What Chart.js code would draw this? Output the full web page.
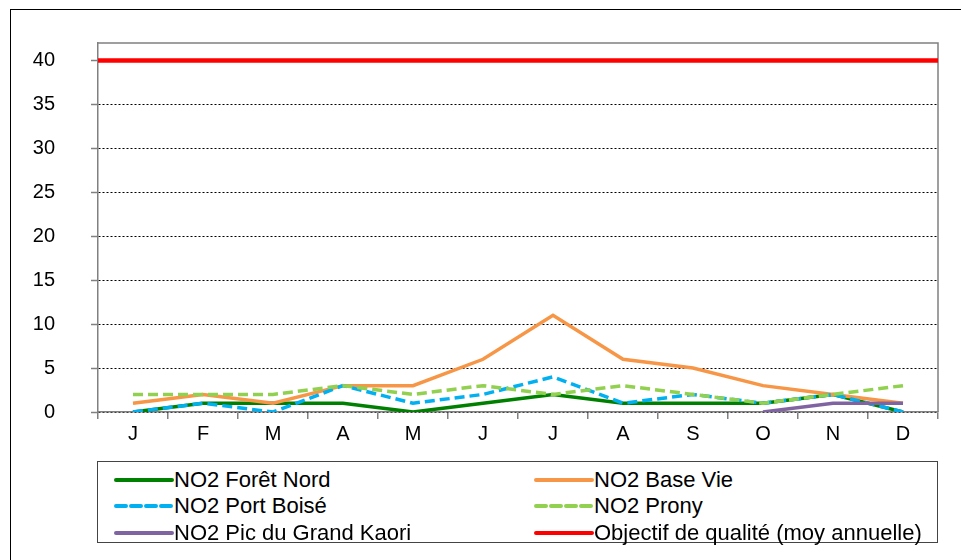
<!DOCTYPE html>
<html>
<head>
<meta charset="utf-8">
<script src="https://cdn.jsdelivr.net/npm/chart.js@4"></script>
<style>
  body { margin: 0; background: #fff; font-family: "Liberation Sans", Arial, sans-serif; }
  #wrap { position: relative; width: 961px; height: 560px; overflow: hidden; }
  #frame { position: absolute; left: 10px; top: 9px; width: 980px; height: 600px; border: 1.5px solid #000; }
  #chart { position: absolute; left: 0; top: 0; }
  #legend { position: absolute; left: 97px; top: 461px; width: 839px; height: 80px; border: 1px solid #444; background: #fff; }
  .item { position: absolute; height: 24px; display: flex; align-items: center; font-size: 22px; color: #000; white-space: nowrap; }
</style>
</head>
<body>
<div id="wrap">
  <div id="frame"></div>
  <canvas id="chart" width="961" height="560"></canvas>
  <div id="legend"></div>
</div>
<script>
// months
const months = ["J", "F", "M", "A", "M", "J", "J", "A", "S", "O", "N", "D"];

// NO2 monthly values
const foretNord = [0, 1, 1, 1, 0, 1, 2, 1, 1, 1, 2, 0];
const baseVie = [1, 2, 1, 3, 3, 6, 11, 6, 5, 3, 2, 1];
const portBoise = [0, 1, 0, 3, 1, 2, 4, 1, 2, 1, 2, 0];
const prony = [2, 2, 2, 3, 2, 3, 2, 3, 2, 1, 2, 3];
const picKaori = [null, null, null, null, null, null, null, null, null, 0, 1, 1];
const objectif = 40; // objectif de qualité, moyenne annuelle

const yTicks = [0, 5, 10, 15, 20, 25, 30, 35, 40];

const series = [
  { label: "NO2 Forêt Nord", data: foretNord, color: "#008000", dash: [] },
  { label: "NO2 Base Vie", data: baseVie, color: "#F79646", dash: [] },
  { label: "NO2 Port Boisé", data: portBoise, color: "#00B0F0", dash: [10, 5] },
  { label: "NO2 Prony", data: prony, color: "#92D050", dash: [10, 5] },
  { label: "NO2 Pic du Grand Kaori", data: picKaori, color: "#8064A2", dash: [] }
];

const datasets = series.map((s, i) => ({
  label: s.label,
  data: s.data,
  borderColor: s.color,
  backgroundColor: s.color,
  borderWidth: 3.5,
  borderDash: s.dash,
  pointRadius: 0,
  tension: 0,
  fill: false,
  order: 10 - i
}));

// the quality target runs across the whole plot, so it sits on an invisible linear x axis
datasets.push({
  label: "Objectif de qualité (moy annuelle)",
  data: [{ x: -0.5, y: objectif }, { x: months.length - 0.5, y: objectif }],
  xAxisID: "x2",
  borderColor: "#FF0000",
  backgroundColor: "#FF0000",
  borderWidth: 4.5,
  pointRadius: 0,
  fill: false,
  order: 0
});

// plot frame on top / right
const frameLines = {
  id: "frameLines",
  beforeDatasetsDraw(chart) {
    const a = chart.chartArea, ctx = chart.ctx;
    ctx.save();
    ctx.strokeStyle = "#808080";
    ctx.lineWidth = 1.5;
    ctx.beginPath();
    ctx.moveTo(a.left, a.top);
    ctx.lineTo(a.right, a.top);
    ctx.lineTo(a.right, a.bottom);
    ctx.stroke();
    ctx.restore();
  }
};

new Chart(document.getElementById("chart"), {
  type: "line",
  data: { labels: months, datasets: datasets },
  plugins: [frameLines],
  options: {
    responsive: false,
    animation: false,
    layout: { padding: { left: 0, top: 43, right: 23, bottom: 108 } },
    plugins: { legend: { display: false }, tooltip: { enabled: false } },
    scales: {
      x: {
        offset: true,
        grid: { offset: true, drawOnChartArea: false, tickLength: 7, color: "#808080", lineWidth: 1.5 },
        border: { color: "#808080", width: 1.5 },
        ticks: { color: "#000", font: { family: "Liberation Sans", size: 20 }, padding: 3, maxRotation: 0 },
        afterFit(scale) { scale.height = 40; }
      },
      x2: {
        type: "linear",
        position: "bottom",
        fullSize: false,
        bounds: "data",
        offset: false,
        min: -0.5,
        max: months.length - 0.5,
        grid: { display: false },
        border: { display: false },
        ticks: { display: false },
        afterFit(scale) { scale.height = 0; }
      },
      y: {
        min: 0,
        max: 42,
        afterBuildTicks(scale) { scale.ticks = yTicks.map(v => ({ value: v })); },
        grid: { color: "#000", lineWidth: 1, tickLength: 7, tickColor: "#808080", tickWidth: 1.5 },
        border: { color: "#808080", width: 1.5, dash: [2, 2] },
        ticks: { color: "#000", font: { family: "Liberation Sans", size: 20 }, padding: 36 },
        afterFit(scale) {
          scale.width = 98;
          scale.paddingTop = 0;
          scale.paddingBottom = 0;
        }
      }
    }
  }
});

// legend, two columns like the original
const legendItems = series.map(s => ({ label: s.label, color: s.color, dash: s.dash }));
legendItems.push({ label: "Objectif de qualité (moy annuelle)", color: "#FF0000", dash: [] });

const legend = document.getElementById("legend");
const cols = [16, 436];
const rows = [6, 32, 59];
legendItems.forEach((s, i) => {
  const el = document.createElement("div");
  el.className = "item";
  el.style.left = cols[i % 2] + "px";
  el.style.top = rows[Math.floor(i / 2)] + "px";
  const dash = s.dash.length ? ' stroke-dasharray="' + s.dash.join(",") + '"' : "";
  el.innerHTML = '<svg width="60" height="10"><line x1="2" y1="5" x2="58" y2="5" stroke="' + s.color +
    '" stroke-width="4" stroke-linecap="round"' + dash + '/></svg>' + s.label;
  legend.appendChild(el);
});
</script>
</body>
</html>
